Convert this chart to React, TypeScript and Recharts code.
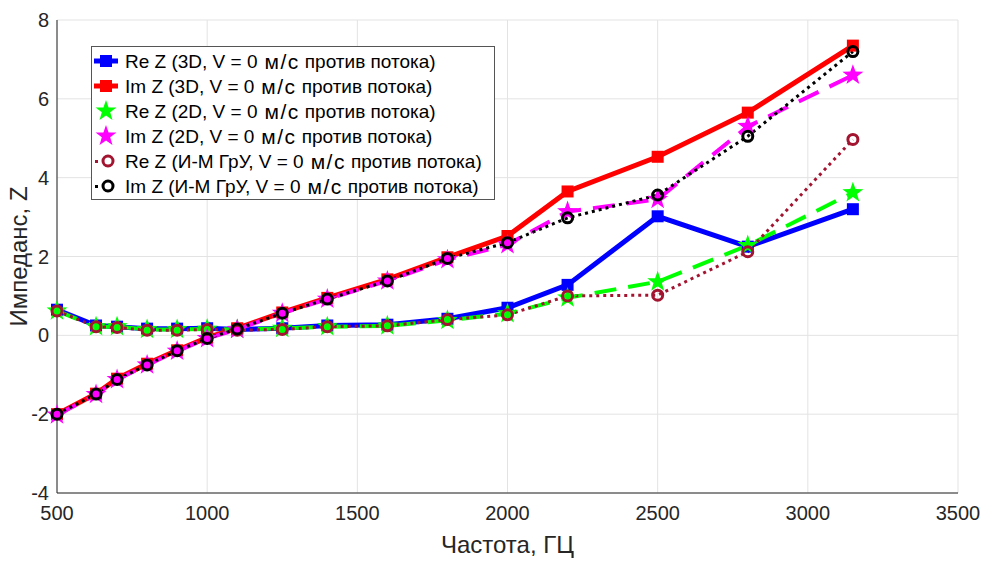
import React from "react";
import {
  ComposedChart,
  Line,
  XAxis,
  YAxis,
  CartesianGrid,
  Legend,
  Label,
} from "recharts";

const FREQS = [500, 630, 700, 800, 900, 1000, 1100, 1250, 1400, 1600, 1800, 2000, 2200, 2500, 2800, 3150];

const RE_3D = [0.65, 0.25, 0.22, 0.17, 0.17, 0.18, 0.15, 0.18, 0.25, 0.27, 0.42, 0.7, 1.28, 3.02, 2.25, 3.2];
const IM_3D = [-2.0, -1.48, -1.1, -0.72, -0.38, -0.06, 0.18, 0.58, 0.95, 1.42, 1.98, 2.52, 3.65, 4.53, 5.65, 7.35];
const RE_2D = [0.62, 0.22, 0.22, 0.15, 0.15, 0.16, 0.15, 0.18, 0.22, 0.24, 0.38, 0.55, 0.95, 1.36, 2.28, 3.62];
const IM_2D = [-2.02, -1.5, -1.12, -0.75, -0.4, -0.08, 0.15, 0.56, 0.92, 1.38, 1.92, 2.3, 3.14, 3.45, 5.3, 6.6];
const RE_IM = [0.62, 0.22, 0.2, 0.13, 0.13, 0.15, 0.13, 0.15, 0.22, 0.24, 0.4, 0.52, 1.0, 1.02, 2.12, 4.97];
const IM_IM = [-2.0, -1.49, -1.12, -0.75, -0.39, -0.08, 0.16, 0.56, 0.92, 1.38, 1.95, 2.35, 2.98, 3.56, 5.05, 7.2];

const X_TICKS = [500, 1000, 1500, 2000, 2500, 3000, 3500];
const Y_TICKS = [-4, -2, 0, 2, 4, 6, 8];

// legend text is split around the units, which sit a little apart in the original
const LABELS: [string, string][] = [
  ["Re Z (3D, V = 0", "против потока)"],
  ["Im Z (3D, V = 0", "против потока)"],
  ["Re Z (2D, V = 0", "против потока)"],
  ["Im Z (2D, V = 0", "против потока)"],
  ["Re Z (И-М ГрУ, V = 0", "против потока)"],
  ["Im Z (И-М ГрУ, V = 0", "против потока)"],
];
const UNITS = "м/с";

const FONT = "'Liberation Sans', Arial, sans-serif";
const AXIS = "#262626";
const DARK_RED = "#a2142f";

type Kind = "square" | "star" | "circle";

interface SeriesDef {
  key: string;
  label: [string, string];
  color: string;
  width: number;
  dash?: string;
  marker: Kind;
}

const SERIES: SeriesDef[] = [
  { key: "re3d", label: LABELS[0], color: "#0000ff", width: 5, marker: "square" },
  { key: "im3d", label: LABELS[1], color: "#ff0000", width: 5, marker: "square" },
  { key: "re2d", label: LABELS[2], color: "#00ff00", width: 4, dash: "22 12", marker: "star" },
  { key: "im2d", label: LABELS[3], color: "#ff00ff", width: 4, dash: "22 12", marker: "star" },
  { key: "reim", label: LABELS[4], color: DARK_RED, width: 3, dash: "3 4", marker: "circle" },
  { key: "imim", label: LABELS[5], color: "#000000", width: 3, dash: "3 4", marker: "circle" },
];

const data = FREQS.map((f, i) => ({
  f,
  re3d: RE_3D[i],
  im3d: IM_3D[i],
  re2d: RE_2D[i],
  im2d: IM_2D[i],
  reim: RE_IM[i],
  imim: IM_IM[i],
}));

function starPath(cx: number, cy: number, R: number, r: number) {
  let d = "";
  for (let k = 0; k < 10; k++) {
    const rad = k % 2 === 0 ? R : r;
    const a = -Math.PI / 2 + (k * Math.PI) / 5;
    d += `${k === 0 ? "M" : "L"}${cx + rad * Math.cos(a)},${cy + rad * Math.sin(a)}`;
  }
  return d + "Z";
}

function Marker({ kind, cx, cy, color }: { kind: Kind; cx: number; cy: number; color: string }) {
  if (cx == null || cy == null) return null;
  if (kind === "square") {
    return <rect x={cx - 6} y={cy - 6} width={12} height={12} fill={color} />;
  }
  if (kind === "star") {
    return <path d={starPath(cx, cy, 11, 4.4)} fill={color} />;
  }
  return <circle cx={cx} cy={cy} r={5} fill="none" stroke={color} strokeWidth={3} />;
}

function LegendBox() {
  return (
    <div
      style={{
        background: "#fff",
        border: "1px solid #555",
        padding: "1px 0 1px 1px",
        fontFamily: FONT,
        fontSize: 19,
        color: "#000",
        boxSizing: "border-box",
        width: 404,
      }}
    >
      {SERIES.map((s) => (
        <div key={s.key} style={{ display: "flex", alignItems: "center", height: 25 }}>
          <svg width={28} height={24} style={{ marginRight: 4, flex: "none" }}>
            {s.marker === "circle" ? (
              <rect x={2} y={11} width={3} height={3} fill={s.color} />
            ) : s.marker === "square" ? (
              <line x1={1} y1={12} x2={25} y2={12} stroke={s.color} strokeWidth={5} />
            ) : null}
            <Marker kind={s.marker} cx={s.marker === "circle" ? 15 : 13} cy={12} color={s.color} />
          </svg>
          <span style={{ whiteSpace: "nowrap" }}>
            {s.label[0]}
            <span
              style={{ fontSize: 21, letterSpacing: 1.5, margin: "0 5px 0 7px", position: "relative", top: 1 }}
            >
              {UNITS}
            </span>
            {s.label[1]}
          </span>
        </div>
      ))}
    </div>
  );
}

export default function App() {
  return (
    <div style={{ position: "fixed", left: 0, top: 0, width: 991, height: 563, background: "#fff" }}>
      <ComposedChart
        width={991}
        height={563}
        data={data}
        margin={{ top: 20, right: 33, bottom: 0, left: 0 }}
        style={{ fontFamily: FONT }}
      >
        <CartesianGrid stroke="#e3e3e3" strokeWidth={1} />
        <XAxis
          dataKey="f"
          type="number"
          domain={[500, 3500]}
          ticks={X_TICKS}
          height={70}
          tick={{ fill: AXIS, fontSize: 20, fontFamily: FONT }}
          axisLine={{ stroke: AXIS }}
          tickLine={false}
          tickMargin={7}
        >
          <Label value="Частота, ГЦ" position="insideBottom" offset={10} fill={AXIS} fontSize={24} fontFamily={FONT} />
        </XAxis>
        <YAxis
          type="number"
          domain={[-4, 8]}
          ticks={Y_TICKS}
          width={57}
          tick={{ fill: AXIS, fontSize: 20, fontFamily: FONT }}
          axisLine={{ stroke: AXIS }}
          tickLine={false}
          tickMargin={2}
          allowDataOverflow
        >
          <Label
            value="Импеданс, Z"
            angle={-90}
            position="insideLeft"
            offset={18}
            style={{ textAnchor: "middle" }}
            fill={AXIS}
            fontSize={24}
            fontFamily={FONT}
          />
        </YAxis>
        <Legend
          layout="vertical"
          align="center"
          verticalAlign="middle"
          wrapperStyle={{ left: 91, top: 46, width: "auto" }}
          content={() => <LegendBox />}
        />
        {SERIES.map((s) => (
          <Line
            key={s.key}
            dataKey={s.key}
            name={s.label.join(` ${UNITS} `)}
            type="linear"
            stroke={s.color}
            strokeWidth={s.width}
            strokeDasharray={s.dash}
            dot={(p: any) => <Marker key={`${s.key}-${p.index}`} kind={s.marker} cx={p.cx} cy={p.cy} color={s.color} />}
            activeDot={false}
            isAnimationActive={false}
          />
        ))}
      </ComposedChart>
    </div>
  );
}
